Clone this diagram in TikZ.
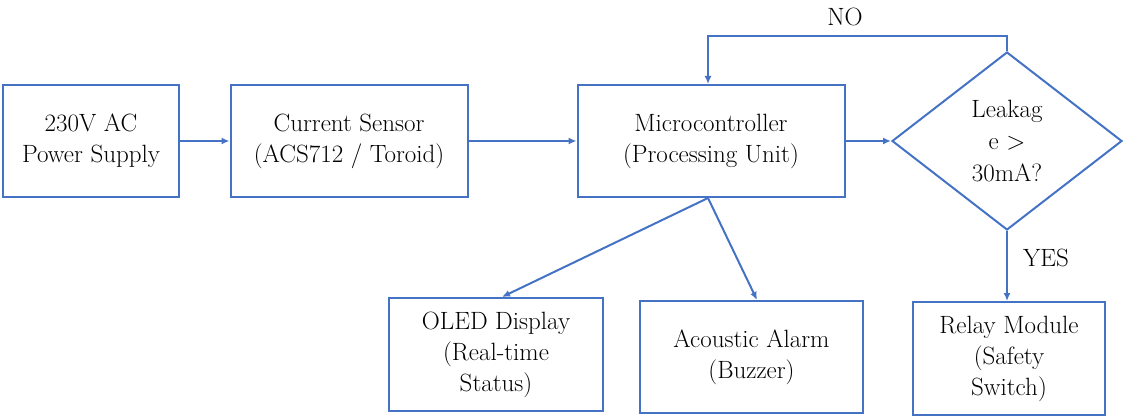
\documentclass[tikz,border=0pt]{standalone}
\usepackage{fontspec}
\usetikzlibrary{shapes.geometric,arrows.meta}
\definecolor{lineblue}{HTML}{4472C4}
\begin{document}
\begin{tikzpicture}[x=1pt,y=-1pt,
  box/.style={draw=lineblue,line width=2pt,rectangle,align=center,inner sep=0pt,
    font=\rmfamily\fontsize{25}{31}\selectfont},
  dec/.style={draw=lineblue,line width=2pt,diamond,align=center,inner sep=0pt,
    font=\rmfamily\fontsize{25}{32}\selectfont},
  arr/.style={draw=lineblue,line width=2pt,-{Latex[length=8pt,width=7pt]}},
  lbl/.style={font=\rmfamily\fontsize{25}{31}\selectfont,inner sep=0pt}]
\useasboundingbox (0,0) rectangle (1125,417);
\node[box,minimum width=176,minimum height=112] (ps) at (91,141) {230V AC\\Power Supply};
\node[box,minimum width=237,minimum height=112] (cs) at (349,141) {Current Sensor\\(ACS712 / Toroid)};
\node[box,minimum width=267,minimum height=112] (mc) at (711,141) {Microcontroller\\(Processing Unit)};
\node[dec,minimum width=230,minimum height=178] (dc) at (1007,141) {Leakag\\e >\\30mA?};
\node[box,minimum width=214,minimum height=113] (ol) at (496,354.5) {OLED Display\\(Real-time\\Status)};
\node[box,minimum width=223,minimum height=112] (ac) at (751.5,357) {Acoustic Alarm\\(Buzzer)};
\node[box,minimum width=192,minimum height=113] (rl) at (1009,358.5) {Relay Module\\(Safety\\Switch)};
\node[lbl] (no) at (845,17) {NO};
\node[lbl] (yes) at (1046,258) {YES};
\coordinate (mcb) at ([xshift=-3pt]mc.south);
\coordinate (mct) at ([xshift=-3pt]mc.north);
\draw[arr] (ps) -- (cs);
\draw[arr] (cs) -- (mc);
\draw[arr] (mc) -- (dc);
\draw[arr] (dc.north) -- ++(0,-15) -| (mct);
\draw[arr] (dc.south) -- (dc.south |- rl.north);
\draw[arr] (mcb) -- ([xshift=6pt]ol.north);
\draw[arr] (mcb) -- ([xshift=5.5pt]ac.north);
\end{tikzpicture}
\end{document}
